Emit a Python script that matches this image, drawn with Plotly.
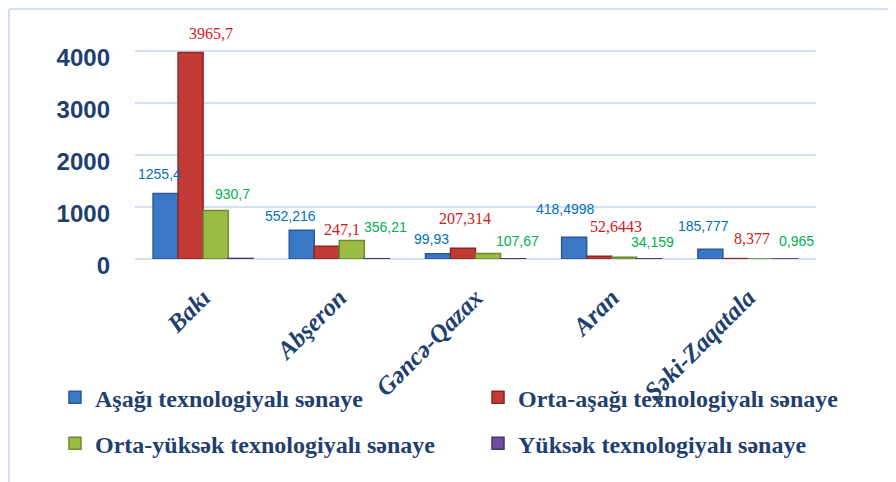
import plotly.graph_objects as go

regions = ["Bakı", "Abşeron", "Gəncə-Qazax", "Aran", "Şəki-Zaqatala"]
series_names = [
    "Aşağı texnologiyalı sənaye",
    "Orta-aşağı texnologiyalı sənaye",
    "Orta-yüksək texnologiyalı sənaye",
    "Yüksək texnologiyalı sənaye",
]
low_tech = [1255.4, 552.216, 99.93, 418.4998, 185.777]
mid_low_tech = [3965.7, 247.1, 207.314, 52.6443, 8.377]
mid_high_tech = [930.7, 356.21, 107.67, 34.159, 0.965]
high_tech = [12, 6, 5, 4, 2]  # not labelled in the source; estimated as near zero

low_labels = ["1255,4", "552,216", "99,93", "418,4998", "185,777"]
mid_low_labels = ["3965,7", "247,1", "207,314", "52,6443", "8,377"]
mid_high_labels = ["930,7", "356,21", "107,67", "34,159", "0,965"]

y_ticks = [0, 1000, 2000, 3000, 4000]

all_values = [low_tech, mid_low_tech, mid_high_tech, high_tech]
all_labels = [low_labels, mid_low_labels, mid_high_labels, None]
fill_colors = ["#3A77C5", "#C23A35", "#9CBB45", "#6B4E9F"]
edge_colors = ["#2A5A98", "#8E2623", "#6E8A2C", "#4C3573"]
label_colors = ["#0070C0", "#D01A1A", "#00B050", None]
label_fonts = [
    dict(family="Liberation Sans, Arial", size=14),
    dict(family="Liberation Serif, Times New Roman", size=16),
    dict(family="Liberation Sans, Arial", size=14),
    None,
]
# label nudges in pixels (style only), per series and category
label_xshift = [[-6, -11, -6, -9, -7], [20, 15, 2, 17, 17], [17, 34, 29, 28, 36], None]
label_yshift = [[20, 14, 15, 28, 23], [19, 17, 30, 30, 20], [17, 13, 12, 15, 18], None]
legend_ids = ["legend", "legend2", "legend", "legend2"]

bargap = 0.265
n_series = 4
bar_w = (1 - bargap) / n_series
x_pos = list(range(len(regions)))

fig = go.Figure()
for k in range(n_series):
    fig.add_trace(go.Bar(
        x=x_pos,
        y=all_values[k],
        name=series_names[k],
        legendgroup=series_names[k],
        legend=legend_ids[k],
        marker=dict(color=fill_colors[k], line=dict(color=edge_colors[k], width=1.5)),
        hoverinfo="name+y",
    ))

annotations = []
for k in range(n_series):
    if all_labels[k] is None:
        continue
    for i, v in enumerate(all_values[k]):
        cx = x_pos[i] - (1 - bargap) / 2 + (k + 0.5) * bar_w
        f = dict(label_fonts[k])
        f["color"] = label_colors[k]
        annotations.append(dict(
            x=cx, y=v, xref="x", yref="y",
            text=all_labels[k][i], showarrow=False,
            font=f, xanchor="center", yanchor="middle",
            xshift=label_xshift[k][i], yshift=label_yshift[k][i],
        ))

axis_color = "#1F3F70"
legend_font = dict(family="Liberation Serif, Times New Roman", size=24,
                   color=axis_color, weight="bold")
fig.update_layout(
    width=896, height=482,
    margin=dict(l=127, r=88, t=27, b=231, autoexpand=False),
    paper_bgcolor="white", plot_bgcolor="white",
    barmode="group", bargap=bargap, bargroupgap=0,
    annotations=annotations,
    xaxis=dict(
        tickmode="array", tickvals=x_pos, ticktext=regions,
        range=[-0.5, len(regions) - 0.5],
        tickangle=-45, automargin=False,
        tickfont=dict(family="Liberation Serif, Times New Roman", size=25,
                      color=axis_color, weight="bold", style="italic"),
        ticks="", showgrid=False, showline=False, zeroline=False,
        ticklabelstandoff=18,
    ),
    yaxis=dict(
        range=[0, 4300], tickmode="array", tickvals=y_ticks,
        ticktext=[str(t) for t in y_ticks], automargin=False,
        tickfont=dict(family="Liberation Sans Narrow, Liberation Sans, Arial", size=24,
                      color=axis_color, weight="bold"),
        showgrid=True, gridcolor="#D5E0F1", gridwidth=2,
        zeroline=True, zerolinecolor="#D5E0F1", zerolinewidth=2,
        showline=False, ticks="", ticklabelstandoff=24, ticklabelshift=7,
    ),
    legend=dict(
        x=-0.1175, y=-0.518, xanchor="left", yanchor="top",
        orientation="v", tracegroupgap=12, font=legend_font,
        bgcolor="rgba(0,0,0,0)", itemwidth=30,
    ),
    legend2=dict(
        x=0.5037, y=-0.518, xanchor="left", yanchor="top",
        orientation="v", tracegroupgap=12, font=legend_font,
        bgcolor="rgba(0,0,0,0)", itemwidth=30,
    ),
    shapes=[
        dict(type="line", xref="paper", yref="paper",
             x0=-0.185, x1=-0.185, y0=1.116, y1=-1.3,
             line=dict(color="#D5E0F1", width=2)),
        dict(type="line", xref="paper", yref="paper",
             x0=-0.185, x1=1.2, y0=1.116, y1=1.116,
             line=dict(color="#D5E0F1", width=2)),
    ],
)

fig.write_html("out.html")
